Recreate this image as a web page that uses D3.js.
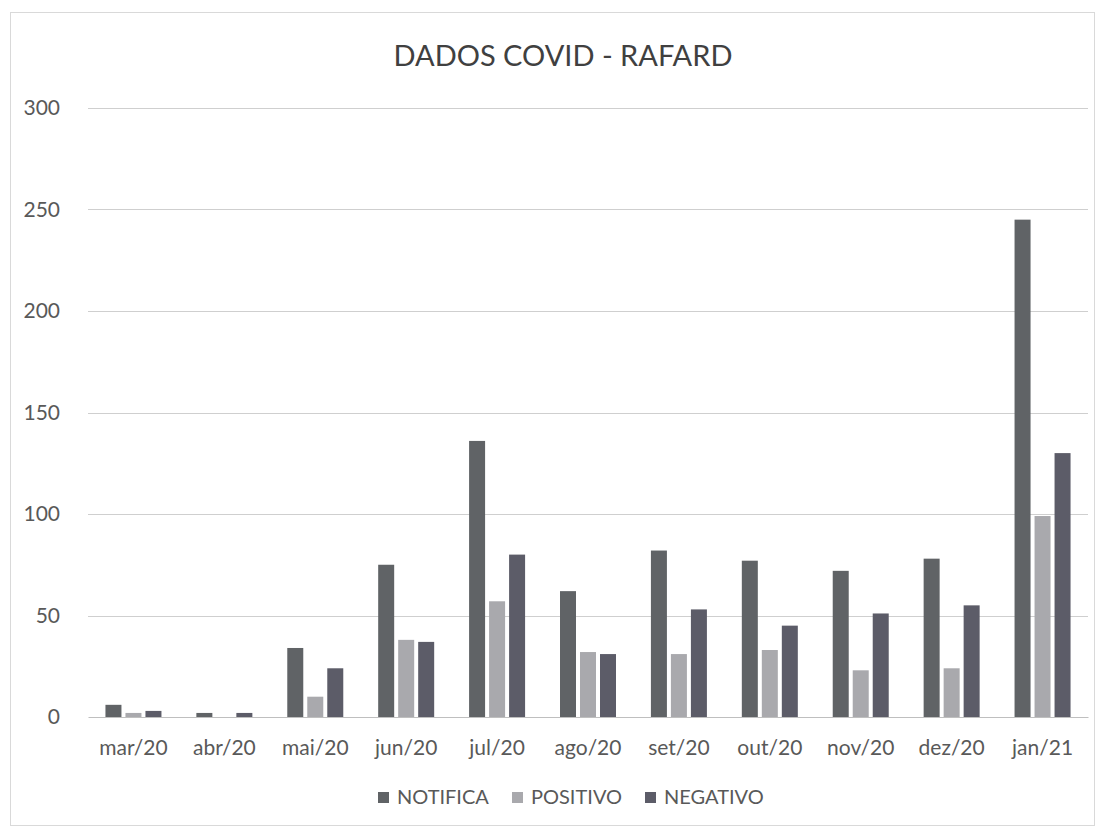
<!DOCTYPE html>
<html>
<head>
<meta charset="utf-8">
<script src="https://cdn.jsdelivr.net/npm/d3@7"></script>
<style>
  html, body { margin: 0; padding: 0; background: #fff; }
  svg { display: block; }
  text { font-family: Lato, "Open Sans", sans-serif; }
</style>
</head>
<body>
<svg id="chart" width="1105" height="828"></svg>
<script>
const categories = ["mar/20","abr/20","mai/20","jun/20","jul/20","ago/20","set/20","out/20","nov/20","dez/20","jan/21"];
const seriesNames = ["NOTIFICA","POSITIVO","NEGATIVO"];
const notifica = [6, 2, 34, 75, 136, 62, 82, 77, 72, 78, 245];
const positivo = [2, 0, 10, 38, 57, 32, 31, 33, 23, 24, 99];
const negativo = [3, 2, 24, 37, 80, 31, 53, 45, 51, 55, 130];
const yTicks = [0, 50, 100, 150, 200, 250, 300];
const colors = ["#606366", "#a9a9ad", "#5c5c68"];

const seriesValues = [notifica, positivo, negativo];
const rows = categories.map((c, i) => ({cat: c, vals: seriesValues.map((s, j) => ({name: seriesNames[j], v: s[i], j}))}));

const svg = d3.select("#chart");
const W = 1105, H = 828;
const m = {left: 88, right: 17, top: 108, bottom: 111};

svg.append("rect").attr("x", 10.5).attr("y", 12.5).attr("width", 1084).attr("height", 813)
  .attr("fill", "#fff").attr("stroke", "#d9d9d9");

const x = d3.scaleBand().domain(categories).range([m.left, W - m.right]).paddingInner(0).paddingOuter(0);
const groupW = 56;
const x1 = d3.scaleBand().domain(seriesNames)
  .range([(x.bandwidth() - groupW) / 2, (x.bandwidth() + groupW) / 2]).paddingInner(0.2).paddingOuter(0);
const y = d3.scaleLinear().domain([0, 300]).range([H - m.bottom, m.top]);

// gridlines
svg.append("g").selectAll("line").data(yTicks.filter(d => d > 0)).join("line")
  .attr("x1", m.left).attr("x2", W - m.right)
  .attr("y1", d => Math.round(y(d)) + 0.5).attr("y2", d => Math.round(y(d)) + 0.5)
  .attr("stroke", "#cfcfcf").attr("stroke-width", 1.2);

// y axis labels
const yAxis = d3.axisLeft(y).tickValues(yTicks).tickSize(0).tickPadding(0);
const gy = svg.append("g").attr("transform", `translate(${m.left - 28},0)`).call(yAxis);
gy.select(".domain").remove();
gy.selectAll("text").attr("font-size", 21).attr("fill", "#595959")
  .style("font-family", "Lato, 'Open Sans', sans-serif");

// bars
const groups = svg.append("g").selectAll("g").data(rows).join("g")
  .attr("transform", d => `translate(${x(d.cat)},0)`);
groups.selectAll("rect").data(d => d.vals).join("rect")
  .attr("x", d => x1(d.name))
  .attr("width", x1.bandwidth())
  .attr("y", d => y(d.v))
  .attr("height", d => y(0) - y(d.v))
  .attr("fill", d => colors[d.j]);

// x axis
const xAxis = d3.axisBottom(x).tickSize(0).tickPadding(23);
const gx = svg.append("g").attr("transform", `translate(0,${y(0)})`).call(xAxis);
gx.select(".domain").attr("stroke", "#bfbfbf").attr("stroke-width", 1.2);
gx.selectAll("text").attr("font-size", 21).attr("fill", "#595959")
  .style("font-family", "Lato, 'Open Sans', sans-serif");

// title
svg.append("text").attr("x", 563).attr("y", 66).attr("text-anchor", "middle")
  .attr("font-size", 29).attr("fill", "#404040").text("DADOS COVID - RAFARD");

// legend
const legendX = [378, 512, 645];
const lg = svg.append("g").selectAll("g").data(seriesNames).join("g")
  .attr("transform", (d, i) => `translate(${legendX[i]},792)`);
lg.append("rect").attr("width", 11).attr("height", 11).attr("fill", (d, i) => colors[i]);
lg.append("text").attr("x", 19).attr("y", 12).attr("font-size", 20).attr("fill", "#595959").text(d => d);
</script>
</body>
</html>
